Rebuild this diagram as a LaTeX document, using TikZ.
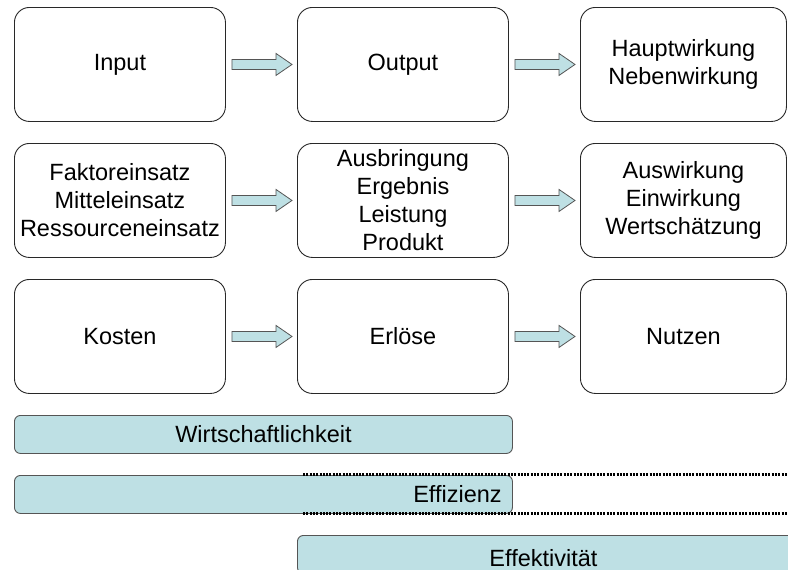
\documentclass[tikz,border=0pt]{standalone}
\usepackage{fontspec}
\setmainfont{Liberation Sans}
\usetikzlibrary{calc}
\definecolor{barfill}{RGB}{190,224,228}
\definecolor{edge}{RGB}{40,40,40}
\definecolor{baredge}{RGB}{85,85,85}
\tikzset{
  box/.style={draw=edge, line width=0.9pt, rounded corners=15pt, fill=white,
    minimum width=211pt, minimum height=114pt, inner sep=0pt, align=center,
    font=\fontsize{23.5}{28}\selectfont, anchor=north west},
  bar/.style={draw=baredge, line width=0.9pt, rounded corners=6pt, fill=barfill,
    minimum height=38pt, inner sep=0pt, anchor=north west},
  blockarrow/.style={draw=baredge, line width=0.8pt, fill=barfill},
  dotline/.style={line width=3pt, dash pattern=on 2pt off 1.3pt, draw=black},
  bartext/.style={font=\fontsize{23.5}{28}\selectfont, inner sep=0pt}
}
\newcommand\blockarr[2]{%
  \path[blockarrow] ($(#1.east)+(6,5)$) -- ($(#2.west)+(-21,5)$) -- ($(#2.west)+(-21,11)$)
    -- ($(#2.west)+(-5,0)$) -- ($(#2.west)+(-21,-11)$) -- ($(#2.west)+(-21,-5)$)
    -- ($(#1.east)+(6,-5)$) -- cycle;}
\begin{document}
\begin{tikzpicture}[x=1pt,y=-1pt]
\useasboundingbox (0,0) rectangle (788,570);
\clip (0,0) rectangle (788,570);
% row 1
\node[box] (input) at (14,7) {Input};
\node[box] (output) at (297,7) {Output};
\node[box, minimum width=206pt] (wirk) at (580,7) {Hauptwirkung\\Nebenwirkung};
% row 2
\node[box] (faktor) at (14,143) {Faktoreinsatz\\Mitteleinsatz\\Ressourceneinsatz};
\node[box] (ausbr) at (297,143) {Ausbringung\\Ergebnis\\Leistung\\Produkt};
\node[box, minimum width=206pt] (ausw) at (580,143) {Auswirkung\\Einwirkung\\Wertschätzung};
% row 3
\node[box] (kosten) at (14,279) {Kosten};
\node[box] (erloese) at (297,279) {Erlöse};
\node[box, minimum width=206pt] (nutzen) at (580,279) {Nutzen};
% arrows
\blockarr{input}{output}
\blockarr{output}{wirk}
\blockarr{faktor}{ausbr}
\blockarr{ausbr}{ausw}
\blockarr{kosten}{erloese}
\blockarr{erloese}{nutzen}
% bars
\node[bar, minimum width=498pt] (wirt) at (14,415) {};
\node[bartext] (wirtt) at (wirt.center) {Wirtschaftlichkeit};
\node[bar, minimum width=498pt] (effiz) at (14,475) {};
\node[bartext, anchor=east] (effizt) at ($(effiz.east)+(-11,0)$) {Effizienz};
\coordinate (d1a) at (303,474);
\coordinate (d1b) at (788,474);
\coordinate (d2a) at (303,513);
\coordinate (d2b) at (788,513);
\draw[dotline] (d1a) -- (d1b);
\draw[dotline] (d2a) -- (d2b);
\node[bar, minimum width=500pt] (effek) at (297,535) {};
\node[bartext] (effekt) at ($(effek.north)+(-4,23)$) {Effektivität};
\end{tikzpicture}
\end{document}
